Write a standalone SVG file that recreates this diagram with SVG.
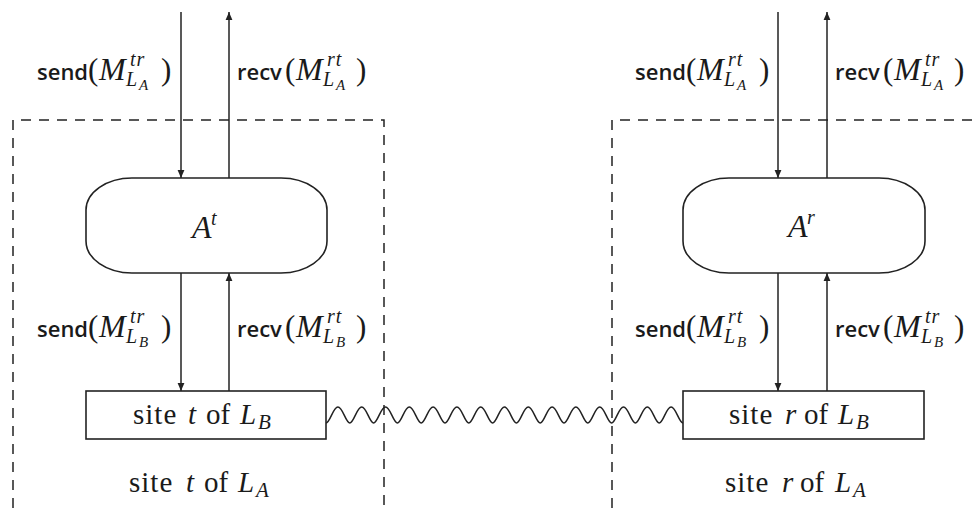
<svg xmlns="http://www.w3.org/2000/svg" width="977" height="508" viewBox="0 0 977 508">
  <defs>
    <marker id="head" viewBox="0 0 8 8" refX="8" refY="4" markerWidth="8" markerHeight="8" markerUnits="userSpaceOnUse" orient="auto">
      <path d="M0,0.6 L8,4 L0,7.4 z" fill="#222"/>
    </marker>
    <style>
      .wire { stroke: #222; stroke-width: 1.5; fill: none; }
      .arrow { marker-end: url(#head); }
      .dash { stroke: #222; stroke-width: 1.5; fill: none; stroke-dasharray: 10 8; }
      .shape { stroke: #222; stroke-width: 1.6; fill: #fff; }
      text { fill: #1a1a1a; }
      .sans { font-family: "Open Sans", "DejaVu Sans", sans-serif; font-weight: 600; font-size: 22px; }
      .par { font-family: "Liberation Serif", serif; font-size: 31px; }
      .m { font-family: "Liberation Serif", serif; font-style: italic; font-size: 32px; }
      .sup { font-family: "Liberation Serif", serif; font-style: italic; font-size: 20px; letter-spacing: 1px; }
      .ss { font-family: "Liberation Serif", serif; font-style: italic; font-size: 15px; }
      .rm { font-family: "Liberation Serif", serif; font-size: 29px; }
      .wide { letter-spacing: 1px; }
      .it { font-style: italic; }
      .sub { font-family: "Liberation Serif", serif; font-style: italic; font-size: 21px; }
    </style>
  </defs>
  <rect width="977" height="508" fill="#fff"/>

  <!-- site boundaries -->
  <g id="site-t-LA">
    <path class="dash" d="M13,508 V120 H384 V508"/>
    <text class="rm" y="492"><tspan class="wide" x="129">site</tspan><tspan class="it" x="186">t</tspan><tspan x="204">of</tspan><tspan class="it" x="238">L</tspan><tspan class="sub" x="256" y="497">A</tspan></text>
  </g>
  <g id="site-r-LA">
    <path class="dash" d="M612,508 V120 H977"/>
    <text class="rm" y="492"><tspan class="wide" x="725">site</tspan><tspan class="it" x="782">r</tspan><tspan x="800">of</tspan><tspan class="it" x="835">L</tspan><tspan class="sub" x="853" y="497">A</tspan></text>
  </g>

  <!-- connectors -->
  <g id="connectors">
    <path class="wire arrow" d="M181,12 V178"/>
    <path class="wire arrow" d="M229,178 V12"/>
    <path class="wire arrow" d="M181,273 V391"/>
    <path class="wire arrow" d="M229,391 V273"/>
    <path class="wire arrow" d="M778,12 V178"/>
    <path class="wire arrow" d="M827,178 V12"/>
    <path class="wire arrow" d="M778,273 V391"/>
    <path class="wire arrow" d="M827,391 V273"/>
    <!-- channel between the two L_B sites -->
    <path class="wire" d="M326,423 c4,0 7,-16 11.9,-16 s7.9,16 11.9,16 s7,-16 11.9,-16 s7.9,16 11.9,16 s7,-16 11.9,-16 s7.9,16 11.9,16 s7,-16 11.9,-16 s7.9,16 11.9,16 s7,-16 11.9,-16 s7.9,16 11.9,16 s7,-16 11.9,-16 s7.9,16 11.9,16 s7,-16 11.9,-16 s7.9,16 11.9,16 s7,-16 11.9,-16 s7.9,16 11.9,16 s7,-16 11.9,-16 s7.9,16 11.9,16 s7,-16 11.9,-16 s7.9,16 11.9,16 s7,-16 11.9,-16 s7.9,16 11.9,16 s7,-16 11.9,-16 s7.9,16 11.9,16 s7,-16 11.9,-16 s7.9,16 11.9,16 s7,-16 11.9,-16 s7.9,16 11.9,16 s7,-16 11.9,-16 s7.9,16 11.9,16"/>

    <!-- connector labels -->
    <text><tspan class="sans" x="37" y="80">send</tspan><tspan class="par" x="88" y="80">(</tspan><tspan class="m" x="99" y="80">M</tspan><tspan class="sup" x="130" y="66">tr</tspan><tspan class="sup" x="126" y="86">L</tspan><tspan class="ss" x="139" y="90">A</tspan><tspan class="par" x="161" y="80">)</tspan></text>
    <text><tspan class="sans" x="237" y="80">recv</tspan><tspan class="par" x="285" y="80">(</tspan><tspan class="m" x="296" y="80">M</tspan><tspan class="sup" x="327" y="66">rt</tspan><tspan class="sup" x="323" y="86">L</tspan><tspan class="ss" x="336" y="90">A</tspan><tspan class="par" x="356" y="80">)</tspan></text>
    <text><tspan class="sans" x="37" y="337">send</tspan><tspan class="par" x="88" y="337">(</tspan><tspan class="m" x="99" y="337">M</tspan><tspan class="sup" x="130" y="323">tr</tspan><tspan class="sup" x="126" y="343">L</tspan><tspan class="ss" x="139" y="347">B</tspan><tspan class="par" x="161" y="337">)</tspan></text>
    <text><tspan class="sans" x="237" y="337">recv</tspan><tspan class="par" x="285" y="337">(</tspan><tspan class="m" x="296" y="337">M</tspan><tspan class="sup" x="327" y="323">rt</tspan><tspan class="sup" x="323" y="343">L</tspan><tspan class="ss" x="336" y="347">B</tspan><tspan class="par" x="356" y="337">)</tspan></text>
    <text><tspan class="sans" x="635" y="80">send</tspan><tspan class="par" x="686" y="80">(</tspan><tspan class="m" x="697" y="80">M</tspan><tspan class="sup" x="728" y="66">rt</tspan><tspan class="sup" x="724" y="86">L</tspan><tspan class="ss" x="737" y="90">A</tspan><tspan class="par" x="759" y="80">)</tspan></text>
    <text><tspan class="sans" x="835" y="80">recv</tspan><tspan class="par" x="883" y="80">(</tspan><tspan class="m" x="894" y="80">M</tspan><tspan class="sup" x="925" y="66">tr</tspan><tspan class="sup" x="921" y="86">L</tspan><tspan class="ss" x="934" y="90">A</tspan><tspan class="par" x="954" y="80">)</tspan></text>
    <text><tspan class="sans" x="635" y="337">send</tspan><tspan class="par" x="686" y="337">(</tspan><tspan class="m" x="697" y="337">M</tspan><tspan class="sup" x="728" y="323">rt</tspan><tspan class="sup" x="724" y="343">L</tspan><tspan class="ss" x="737" y="347">B</tspan><tspan class="par" x="759" y="337">)</tspan></text>
    <text><tspan class="sans" x="835" y="337">recv</tspan><tspan class="par" x="883" y="337">(</tspan><tspan class="m" x="894" y="337">M</tspan><tspan class="sup" x="925" y="323">tr</tspan><tspan class="sup" x="921" y="343">L</tspan><tspan class="ss" x="934" y="347">B</tspan><tspan class="par" x="954" y="337">)</tspan></text>
  </g>

  <!-- protocol automata -->
  <g id="A-t">
    <rect class="shape" x="86" y="178" width="241" height="95" rx="46" ry="32"/>
    <text class="m" font-size="29" x="192" y="238">A<tspan class="sup" x="211" y="225">t</tspan></text>
  </g>
  <g id="A-r">
    <rect class="shape" x="683" y="178" width="242" height="95" rx="46" ry="32"/>
    <text class="m" font-size="29" x="788" y="237">A<tspan class="sup" x="807" y="224">r</tspan></text>
  </g>

  <!-- L_B sites -->
  <g id="site-t-LB">
    <rect class="shape" x="86" y="391" width="240" height="48"/>
    <text class="rm" y="424"><tspan class="wide" x="133">site</tspan><tspan class="it" x="188">t</tspan><tspan x="206">of</tspan><tspan class="it" x="240">L</tspan><tspan class="sub" x="258" y="429">B</tspan></text>
  </g>
  <g id="site-r-LB">
    <rect class="shape" x="683" y="391" width="241" height="48"/>
    <text class="rm" y="424"><tspan class="wide" x="729">site</tspan><tspan class="it" x="785">r</tspan><tspan x="804">of</tspan><tspan class="it" x="838">L</tspan><tspan class="sub" x="856" y="429">B</tspan></text>
  </g>
</svg>
